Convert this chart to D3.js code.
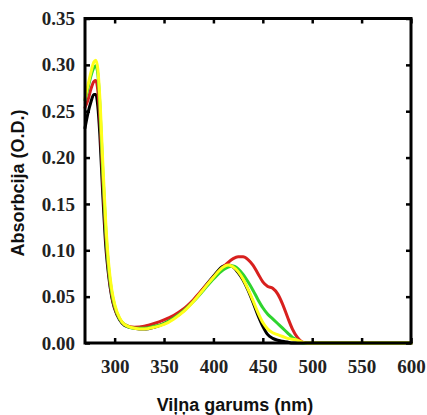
<!DOCTYPE html>
<meta charset="utf-8">
<style>
  body { margin: 0; background: #fff; }
  .tick text { font-family: "Liberation Serif", serif; font-weight: bold; font-size: 19px; fill: #222; }
  .axis-title { font-family: "Liberation Sans", Arial, sans-serif; font-weight: bold; font-size: 18px; fill: #111; }
  .curve { fill: none; stroke-width: 3; stroke-linejoin: round; stroke-linecap: round; }
</style>
<body>
<svg width="427" height="415"></svg>
<script src="https://d3js.org/d3.v7.min.js"></script>
<script>
  // wavelength (nm) shared by all four spectra
  var wavelengths = [270, 273, 276, 279, 281, 283, 285, 288, 291, 294, 297, 300, 305, 310, 320, 330, 340, 350,
    360, 370, 380, 390, 400, 410, 415, 420, 425, 430, 435, 440, 445, 450, 455, 460, 465, 470, 475, 480, 485, 490,
    495, 500, 550, 600];

  var blackSeries = [0.232, 0.248, 0.260, 0.268, 0.268, 0.255, 0.225, 0.160, 0.105, 0.072, 0.050, 0.037, 0.025,
    0.019, 0.016, 0.015, 0.017, 0.021, 0.027, 0.035, 0.046, 0.059, 0.072, 0.083, 0.084, 0.082, 0.076, 0.068,
    0.057, 0.044, 0.030, 0.018, 0.009, 0.005, 0.003, 0.002, 0.001, 0, 0, 0, 0, 0, 0, 0];
  var redSeries = [0.254, 0.262, 0.274, 0.282, 0.283, 0.272, 0.243, 0.175, 0.115, 0.076, 0.052, 0.038, 0.026,
    0.020, 0.017, 0.018, 0.021, 0.025, 0.030, 0.037, 0.047, 0.059, 0.071, 0.082, 0.087, 0.091, 0.093, 0.093,
    0.090, 0.084, 0.075, 0.066, 0.061, 0.059, 0.053, 0.042, 0.028, 0.015, 0.006, 0.001, 0, 0, 0, 0];
  var greenSeries = [0.262, 0.275, 0.288, 0.297, 0.299, 0.290, 0.258, 0.185, 0.122, 0.080, 0.055, 0.040, 0.026,
    0.020, 0.016, 0.016, 0.018, 0.021, 0.027, 0.035, 0.045, 0.057, 0.069, 0.079, 0.082, 0.083, 0.080, 0.074,
    0.066, 0.057, 0.047, 0.038, 0.031, 0.026, 0.021, 0.016, 0.011, 0.006, 0.003, 0, 0, 0, 0, 0];
  var yellowSeries = [0.264, 0.278, 0.292, 0.303, 0.305, 0.295, 0.265, 0.195, 0.130, 0.085, 0.058, 0.042, 0.027,
    0.020, 0.016, 0.015, 0.017, 0.020, 0.026, 0.034, 0.045, 0.058, 0.071, 0.082, 0.084, 0.082, 0.077, 0.069,
    0.058, 0.046, 0.033, 0.022, 0.015, 0.011, 0.009, 0.007, 0.005, 0.004, 0.003, 0.001, 0, 0, 0, 0];

  var seriesColors = ["#000000", "#d8201e", "#2fd42f", "#ffff1a"];
  var xTicks = [300, 350, 400, 450, 500, 550, 600];
  var yTicks = [0, 0.05, 0.10, 0.15, 0.20, 0.25, 0.30, 0.35];

  var svg = d3.select("svg");
  var plotLeft = 85, plotRight = 411, plotTop = 18.5, plotBottom = 343;

  var x = d3.scaleLinear().domain([270, 600]).range([plotLeft, plotRight]);
  var y = d3.scaleLinear().domain([0, 0.35]).range([plotBottom, plotTop]);

  var line = d3.line()
    .x(function (d) { return x(d[0]); })
    .y(function (d) { return y(d[1]); })
    .curve(d3.curveMonotoneX);

  // curves first, the frame goes on top
  [blackSeries, redSeries, greenSeries, yellowSeries].forEach(function (vals, i) {
    svg.append("path")
      .attr("class", "curve")
      .attr("stroke", seriesColors[i])
      .attr("d", line(wavelengths.map(function (w, j) { return [w, vals[j]]; })));
  });

  // inward ticks on all four sides
  svg.append("g")
    .attr("transform", "translate(0," + plotBottom + ")")
    .call(d3.axisBottom(x).tickValues(xTicks).tickSize(-5).tickPadding(17).tickFormat(d3.format("d")));
  svg.append("g")
    .attr("transform", "translate(0," + plotTop + ")")
    .call(d3.axisTop(x).tickValues(xTicks).tickSize(-5).tickFormat(""));
  svg.append("g")
    .attr("transform", "translate(" + plotLeft + ",0)")
    .call(d3.axisLeft(y).tickValues(yTicks).tickSize(-5).tickPadding(10).tickFormat(d3.format(".2f")));
  svg.append("g")
    .attr("transform", "translate(" + plotRight + ",0)")
    .call(d3.axisRight(y).tickValues(yTicks).tickSize(-5).tickFormat(""));

  svg.selectAll(".domain").remove();
  svg.selectAll(".tick line").attr("stroke", "#000").attr("stroke-width", 2.5);

  svg.append("rect")
    .attr("x", plotLeft).attr("y", plotTop)
    .attr("width", plotRight - plotLeft).attr("height", plotBottom - plotTop)
    .attr("fill", "none").attr("stroke", "#000").attr("stroke-width", 3);

  svg.append("text")
    .attr("class", "axis-title")
    .attr("x", 235).attr("y", 411)
    .attr("text-anchor", "middle")
    .text("Viļņa garums (nm)");

  svg.append("text")
    .attr("class", "axis-title")
    .attr("transform", "translate(24,183) rotate(-90)")
    .attr("text-anchor", "middle")
    .text("Absorbcija (O.D.)");
</script>
</body>
